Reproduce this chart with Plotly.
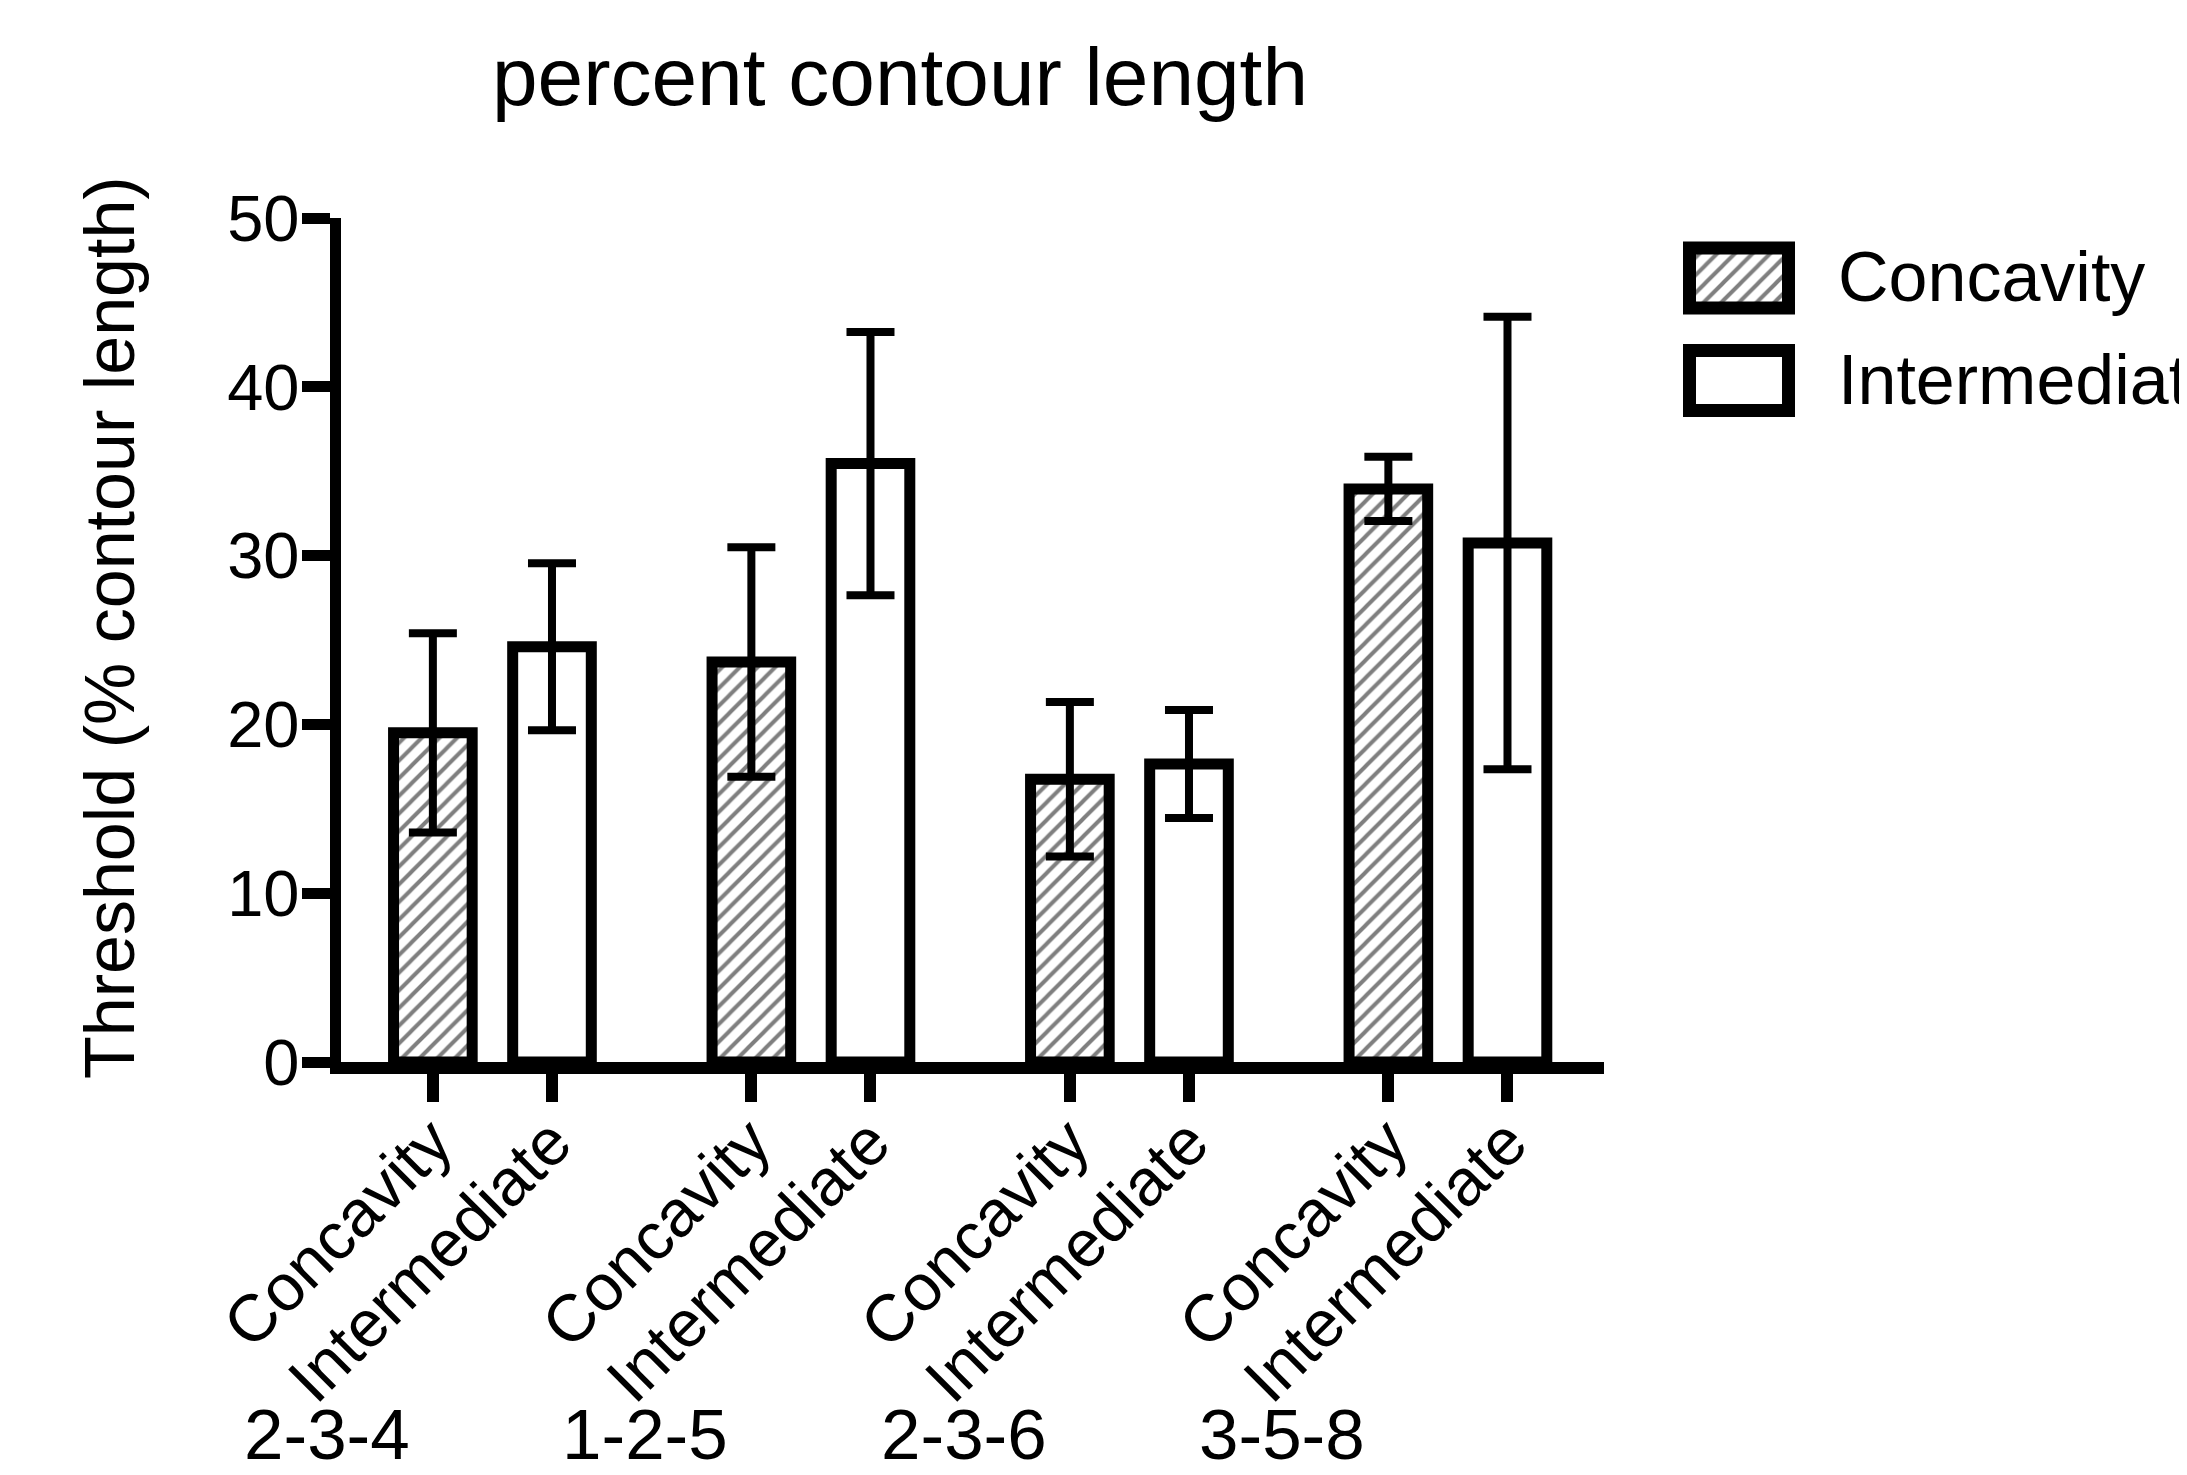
import plotly.graph_objects as go

# ---- data ----
groups = ["2-3-4", "1-2-5", "2-3-6", "3-5-8"]
series_names = ["Concavity", "Intermediate"]
concavity = [19.5, 23.7, 16.75, 33.95]
concavity_err = [5.9, 6.8, 4.57, 1.9]
intermediate = [24.6, 35.45, 17.65, 30.75]
intermediate_err = [4.95, 7.8, 3.2, 13.4]
y_ticks = [0, 10, 20, 30, 40, 50]

W, H = 2187, 1475
OFF = 8  # page body margin
FONT = "Liberation Sans, Arial, sans-serif"
BARGAP = 0.252
BARGROUPGAP = 0.34


def px_x(p):
    return (p - OFF) / W


def px_y(p):
    return 1 - (p - OFF) / H


XRANGE = [-0.477, 3.49]
XDOM = [px_x(340.5), px_x(1604)]
YDOM = [px_y(1062), px_y(218)]


def data_to_paper_x(v):
    return XDOM[0] + (v - XRANGE[0]) / (XRANGE[1] - XRANGE[0]) * (XDOM[1] - XDOM[0])


gidx = list(range(len(groups)))
slot = (1 - BARGAP) / 2
tickvals, ticktext = [], []
for g in gidx:
    tickvals += [g - slot / 2, g + slot / 2]
    ticktext += series_names

fig = go.Figure()

hatch = dict(shape="/", fgcolor="black", bgcolor="white", size=12.5, solidity=0.32, fillmode="overlay")

fig.add_trace(go.Bar(
    x=gidx, y=concavity, name="Concavity",
    marker=dict(color="white", pattern=hatch, line=dict(color="black", width=11)),
    error_y=dict(type="data", array=concavity_err, color="black", thickness=8, width=24),
    showlegend=False,
))
fig.add_trace(go.Bar(
    x=gidx, y=intermediate, name="Intermediate",
    marker=dict(color="white", line=dict(color="black", width=11)),
    error_y=dict(type="data", array=intermediate_err, color="black", thickness=8, width=24),
    showlegend=False,
))

# legend swatches drawn as bars in a small helper subplot
fig.add_trace(go.Bar(
    y=[1], x=[1], base=[0], orientation="h", width=[0.585],
    marker=dict(color="white", pattern=hatch, line=dict(color="black", width=13)),
    xaxis="x2", yaxis="y2", showlegend=False, hoverinfo="skip",
))
fig.add_trace(go.Bar(
    y=[0], x=[1], base=[0], orientation="h", width=[0.585],
    marker=dict(color="white", line=dict(color="black", width=13)),
    xaxis="x2", yaxis="y2", showlegend=False, hoverinfo="skip",
))

annotations = []
annotations.append(dict(text="percent contour length", x=px_x(900), y=px_y(76),
                        xref="paper", yref="paper", xanchor="center", yanchor="middle",
                        showarrow=False, font=dict(family=FONT, size=82, color="black")))
annotations.append(dict(text="Threshold (% contour length)", x=px_x(110), y=px_y(628),
                        xref="paper", yref="paper", xanchor="center", yanchor="middle",
                        textangle=-90, showarrow=False,
                        font=dict(family=FONT, size=70, color="black")))
for g, lab in zip(gidx, groups):
    annotations.append(dict(text=lab, x=data_to_paper_x(g - 0.52), y=px_y(1434),
                            xref="paper", yref="paper",
                            xanchor="center", yanchor="middle", showarrow=False,
                            font=dict(family=FONT, size=71, color="black")))
for name, yc in zip(series_names, [277, 380]):
    annotations.append(dict(text=name, x=px_x(1836), y=px_y(yc), xref="paper", yref="paper",
                            xanchor="left", yanchor="middle", showarrow=False,
                            font=dict(family=FONT, size=70, color="black")))

fig.update_layout(
    template="none",
    width=W, height=H,
    margin=dict(l=0, r=0, t=0, b=0, autoexpand=False),
    paper_bgcolor="white", plot_bgcolor="rgba(0,0,0,0)",
    barmode="group", bargap=BARGAP, bargroupgap=BARGROUPGAP,
    font=dict(family=FONT, color="black"),
    annotations=annotations,
    xaxis=dict(
        domain=XDOM, range=XRANGE, automargin=False,
        showline=True, linecolor="black", linewidth=12,
        tickmode="array", tickvals=tickvals, ticktext=ticktext,
        ticks="outside", ticklen=28, tickwidth=12, tickcolor="black",
        tickangle=-45, ticklabelstandoff=-25,
        tickfont=dict(family=FONT, size=66, color="black"),
        showgrid=False, zeroline=False, fixedrange=True,
    ),
    yaxis=dict(
        domain=YDOM, range=[0, 50], automargin=False,
        showline=True, linecolor="black", linewidth=11,
        tickmode="array", tickvals=y_ticks,
        ticks="outside", ticklen=28, tickwidth=11, tickcolor="black",
        ticklabelstandoff=-11,
        tickfont=dict(family=FONT, size=65, color="black"),
        showgrid=False, zeroline=False, fixedrange=True,
    ),
    xaxis2=dict(domain=[px_x(1670), px_x(1810)], range=[-0.197, 1.217], visible=False,
                anchor="y2", fixedrange=True, automargin=False),
    yaxis2=dict(domain=[px_y(430), px_y(230)], range=[-0.483, 1.468], visible=False,
                anchor="x2", fixedrange=True, automargin=False),
    showlegend=False,
)

fig.write_html("out.html")
